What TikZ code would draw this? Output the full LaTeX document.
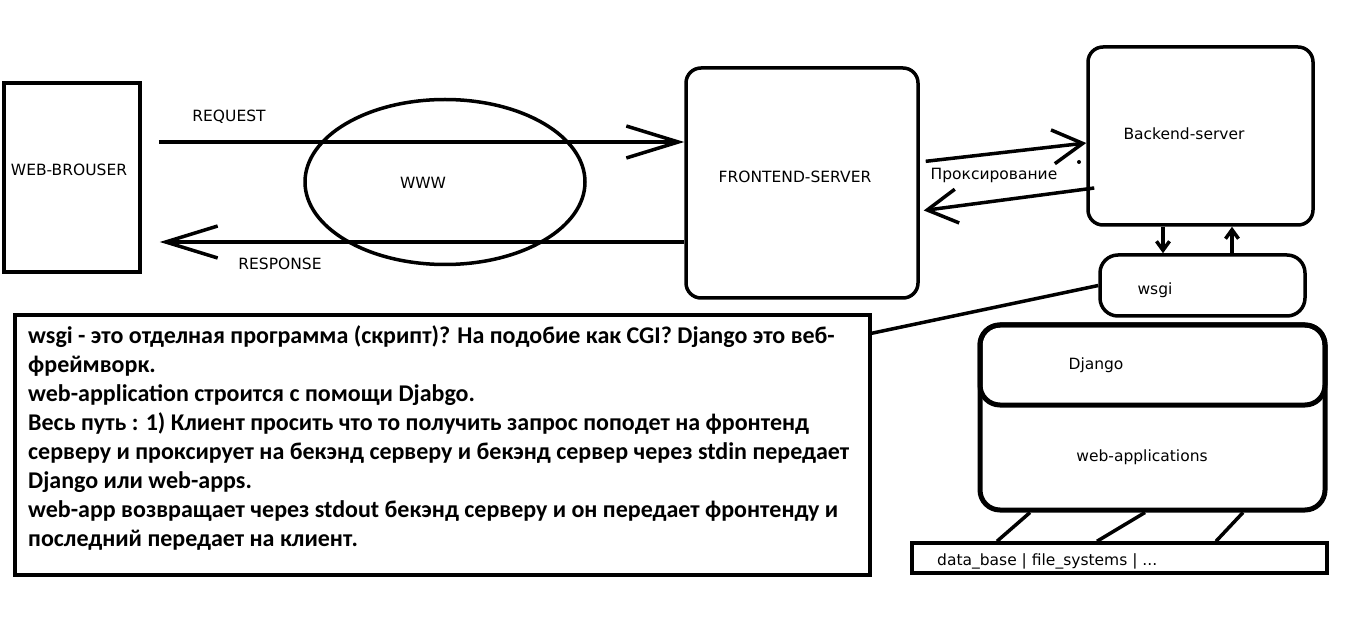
\documentclass[tikz,border=0pt]{standalone}
\usepackage{fontspec}
\setmainfont{DejaVu Sans}
\newfontfamily\notefont{Carlito}
\usetikzlibrary{shapes.geometric,arrows.meta}

\begin{document}
\begin{tikzpicture}[x=1pt, y=-1pt]
    % Define styles
    \tikzstyle{box} = [rectangle, draw=black, line width=3.5pt, inner sep=0pt]
    \tikzstyle{rbox} = [box, rounded corners=15pt]
    \tikzstyle{txt} = [inner sep=0pt, font=\fontsize{15.5}{18}\selectfont]
    \tikzstyle{wire} = [draw=black, line width=3.5pt]
    \tikzstyle{bigarrow} = [wire, -{Straight Barb[length=52pt, width=32pt]}]
    \tikzstyle{midarrow} = [wire, -{Straight Barb[length=30pt, width=34pt]}]
    \tikzstyle{smallarrow} = [wire, -{Straight Barb[length=9pt, width=13pt]}]

    \useasboundingbox (0, 0) rectangle (1360, 636);

    % Boxes
    \node[box, minimum width=136pt, minimum height=189pt] (browser) at (72, 177.5) {};
    \node[ellipse, draw=black, line width=3.5pt, minimum width=280pt, minimum height=165pt] (www) at (445, 182) {};
    \node[rbox, minimum width=232pt, minimum height=230pt] (front) at (802, 183) {};
    \node[rbox, minimum width=225pt, minimum height=178pt] (back) at (1200.5, 136) {};
    \node[rbox, rounded corners=18pt, minimum width=205pt, minimum height=61pt] (wsgi) at (1202.5, 285.5) {};
    \node[rbox, line width=5pt, rounded corners=20pt, minimum width=345pt, minimum height=185pt] (app) at (1152.5, 417.5) {};
    \node[rbox, line width=5pt, rounded corners=20pt, minimum width=345pt, minimum height=80pt] (django) at (1152.5, 365) {};
    \node[box, minimum width=415pt, minimum height=30pt] (data) at (1119.5, 558) {};
    \node[box, minimum width=855pt, minimum height=260pt] (note) at (442.5, 445) {};

    % Labels
    \node[txt] (browsertxt) at (69, 170) {WEB-BROUSER};
    \node[txt] (reqtxt) at (229, 117) {REQUEST};
    \node[txt] (resptxt) at (280, 264) {RESPONSE};
    \node[txt] (wwwtxt) at (423, 183) {WWW};
    \node[txt] (fronttxt) at (795, 177) {FRONTEND-SERVER};
    \node[txt] (backtxt) at (1184, 134) {Backend-server};
    \node[txt] (proxytxt) at (994, 175) {Проксирование};
    \node[txt] (wsgitxt) at (1155, 290) {wsgi};
    \node[txt] (djangotxt) at (1096, 365) {Django};
    \node[txt] (apptxt) at (1142, 457) {web-applications};
    \node[txt, anchor=west] (datatxt) at (937, 561) {data\_base | file\_systems | ...};

    % Note text
    \node[anchor=north west, inner sep=0pt, align=left, font=\notefont\bfseries\fontsize{24}{29}\selectfont] (notetxt) at (28, 325) {%
        wsgi - это отделная программа (скрипт)? На подобие как CGI? Django это веб-\\
        фреймворк.\\
        web-application строится с помощи Djabgo.\\
        Весь путь : 1) Клиент просить что то получить запрос поподет на фронтенд\\
        серверу и проксирует на бекэнд серверу и бекэнд сервер через stdin передает\\
        Django или web-apps.\\
        web-app возвращает через stdout бекэнд серверу и он передает фронтенду и\\
        последний передает на клиент.};

    % Connectors
    \draw[bigarrow, shorten <=17pt] ([yshift=35.5pt]browser.east) -- ([yshift=35.5pt]browser.east -| front.west);
    \draw[bigarrow, shorten >=18pt] ([yshift=-59pt]front.west) -- ([yshift=-59pt]front.west -| browser.east);
    \draw[midarrow, shorten <=6pt] ([yshift=21pt]front.east) -- ([yshift=-7pt]back.west);
    \draw[midarrow, shorten >=4pt] ([xshift=8pt, yshift=-52pt]back.west) -- ([yshift=-28pt]front.east);
    \fill (1079, 162) circle (2pt);
    \draw[smallarrow] ([xshift=-37.5pt]back.south) -- ([xshift=-37.5pt]back.south |- wsgi.north);
    \draw[smallarrow] ([xshift=31.5pt]back.south |- wsgi.north) -- ([xshift=31.5pt]back.south);
    \draw[wire] (wsgi.west) -- ([yshift=-20pt]note.north east);
    \draw[wire] ([xshift=-122.5pt]app.south) -- ([xshift=-122.5pt]data.north);
    \draw[wire] ([xshift=-7.5pt]app.south) -- ([xshift=-22.5pt]data.north);
    \draw[wire] ([xshift=90.5pt]app.south) -- ([xshift=96.5pt]data.north);

\end{tikzpicture}
\end{document}
